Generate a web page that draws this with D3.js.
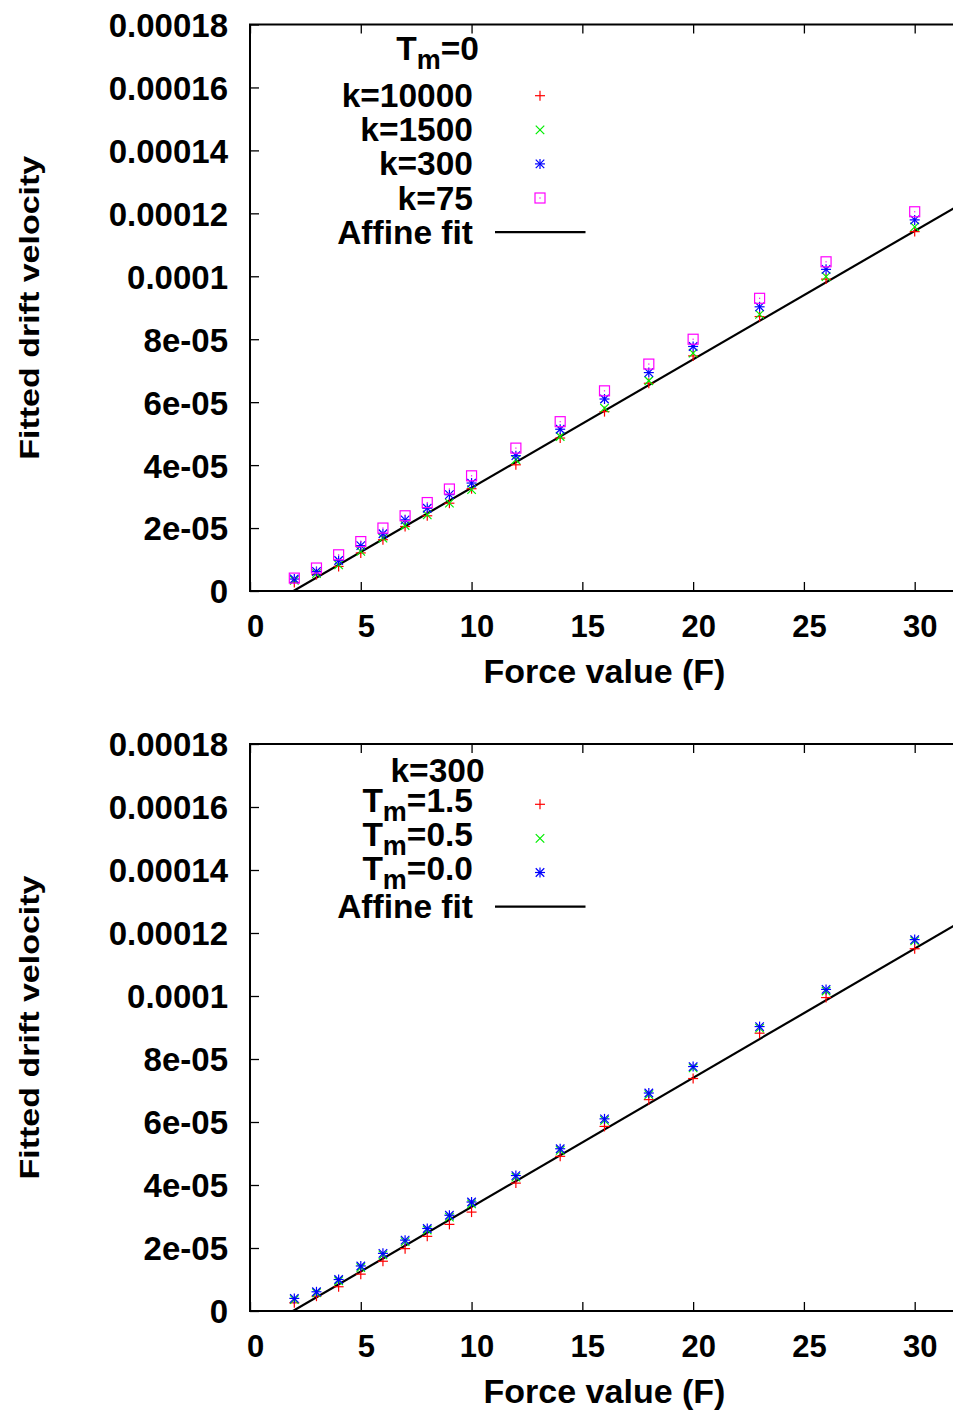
<!DOCTYPE html>
<html>
<head>
<meta charset="utf-8">
<script src="https://cdn.jsdelivr.net/npm/d3@7"></script>
<style>
  html, body { margin: 0; padding: 0; background: #fff; }
  svg { display: block; }
  text { font-family: "Liberation Sans", Arial, Helvetica, sans-serif; font-weight: bold; fill: #000; }
</style>
</head>
<body>
<svg id="chart" width="953" height="1414"></svg>
<script>
// ---------------- data ----------------
const forces = [2, 3, 4, 5, 6, 7, 8, 9, 10, 12, 14, 16, 18, 20, 23, 26, 30];

// Top panel (T_m = 0)
const topK10000 = [2.7e-6, 5.2e-6, 7.8e-6, 1.21e-5, 1.63e-5, 2.05e-5, 2.39e-5, 2.79e-5, 3.25e-5, 4.01e-5, 4.86e-5, 5.70e-5, 6.60e-5, 7.47e-5, 8.72e-5, 9.91e-5, 1.142e-4];
const topK1500  = [3.4e-6, 5.5e-6, 8.3e-6, 1.26e-5, 1.68e-5, 2.08e-5, 2.42e-5, 2.79e-5, 3.22e-5, 4.17e-5, 4.91e-5, 5.81e-5, 6.68e-5, 7.56e-5, 8.79e-5, 9.99e-5, 1.157e-4];
const topK300   = [3.8e-6, 6.2e-6, 9.7e-6, 1.44e-5, 1.82e-5, 2.26e-5, 2.63e-5, 3.06e-5, 3.43e-5, 4.30e-5, 5.14e-5, 6.10e-5, 6.94e-5, 7.77e-5, 9.03e-5, 1.022e-4, 1.179e-4];
const topK75    = [4.1e-6, 7.3e-6, 1.15e-5, 1.57e-5, 2.00e-5, 2.39e-5, 2.81e-5, 3.24e-5, 3.66e-5, 4.54e-5, 5.38e-5, 6.36e-5, 7.21e-5, 8.00e-5, 9.30e-5, 1.046e-4, 1.205e-4];
const topFit = [4.08e-6, -8.0e-6];   // slope, intercept

// Bottom panel (k = 300)
const botTm15 = [2.6e-6, 4.7e-6, 7.7e-6, 1.17e-5, 1.58e-5, 1.98e-5, 2.37e-5, 2.75e-5, 3.14e-5, 4.06e-5, 4.91e-5, 5.86e-5, 6.71e-5, 7.38e-5, 8.82e-5, 9.95e-5, 1.150e-4];
const botTm05 = [3.6e-6, 5.8e-6, 9.6e-6, 1.38e-5, 1.78e-5, 2.20e-5, 2.57e-5, 2.98e-5, 3.40e-5, 4.25e-5, 5.10e-5, 6.05e-5, 6.87e-5, 7.72e-5, 8.98e-5, 1.016e-4, 1.175e-4];
const botTm00 = [4.0e-6, 6.1e-6, 1.0e-5, 1.43e-5, 1.83e-5, 2.25e-5, 2.62e-5, 3.04e-5, 3.46e-5, 4.30e-5, 5.15e-5, 6.10e-5, 6.92e-5, 7.76e-5, 9.03e-5, 1.021e-4, 1.179e-4];
const botFit = [4.10e-6, -7.95e-6];

const xTicks = [0, 5, 10, 15, 20, 25, 30];
const yTicks = [0, 2e-5, 4e-5, 6e-5, 8e-5, 1e-4, 1.2e-4, 1.4e-4, 1.6e-4, 1.8e-4];
const yTickLabels = ["0", "2e-05", "4e-05", "6e-05", "8e-05", "0.0001", "0.00012", "0.00014", "0.00016", "0.00018"];
const xDomain = [0, 32];
const yDomain = [0, 1.8e-4];

const xLabel = "Force value (F)";
const yLabel = "Fitted drift velocity";

// ---------------- drawing ----------------
const svg = d3.select("#chart");
const COLORS = { red: "#ff0000", green: "#00ee00", blue: "#0000ff", magenta: "#ff00ff" };

function drawMarker(g, type, cx, cy, color) {
  const s = 5;
  const add = (x1, y1, x2, y2) => g.append("line")
    .attr("x1", cx + x1).attr("y1", cy + y1).attr("x2", cx + x2).attr("y2", cy + y2)
    .attr("stroke", color).attr("stroke-width", 1.2);
  if (type === "plus" || type === "star") { add(-s, 0, s, 0); add(0, -s, 0, s); }
  if (type === "cross" || type === "star") { add(-s * 0.85, -s * 0.85, s * 0.85, s * 0.85); add(-s * 0.85, s * 0.85, s * 0.85, -s * 0.85); }
  if (type === "square") {
    g.append("rect").attr("x", cx - s).attr("y", cy - s).attr("width", 2 * s).attr("height", 2 * s)
      .attr("fill", "none").attr("stroke", color).attr("stroke-width", 1.2);
    g.append("rect").attr("x", cx - 0.6).attr("y", cy - 0.6).attr("width", 1.2).attr("height", 1.2).attr("fill", color);
  }
}

function drawPanel(cfg) {
  const left = 250, right = 959;
  const x = d3.scaleLinear().domain(xDomain).range([left, right]);
  const y = d3.scaleLinear().domain(yDomain).range([cfg.bottom, cfg.top]);
  const g = svg.append("g");
  const clipId = "clip" + cfg.id;
  svg.append("clipPath").attr("id", clipId).append("rect")
    .attr("x", left).attr("y", cfg.top).attr("width", right - left).attr("height", cfg.bottom - cfg.top);

  // bottom axis
  const xAxis = d3.axisBottom(x).tickValues(xTicks).tickSize(-9).tickPadding(0).tickFormat(d3.format("d"));
  const gx = g.append("g").attr("transform", `translate(0,${cfg.bottom})`).call(xAxis);
  gx.select(".domain").remove();
  gx.selectAll(".tick line").attr("stroke", "#000").attr("stroke-width", 1.3);
  gx.selectAll(".tick text").attr("y", 45.5).attr("dy", 0).attr("dx", 5)
    .style("font-size", "31px").style("font-family", "Liberation Sans, Arial, sans-serif").style("font-weight", "bold");

  // top mirror ticks
  const xAxisTop = d3.axisTop(x).tickValues(xTicks).tickSize(-9).tickFormat("");
  const gxt = g.append("g").attr("transform", `translate(0,${cfg.top})`).call(xAxisTop);
  gxt.select(".domain").remove();
  gxt.selectAll(".tick line").attr("stroke", "#000").attr("stroke-width", 1.3);

  // left axis
  const yAxis = d3.axisLeft(y).tickValues(yTicks).tickSize(-9).tickPadding(0)
    .tickFormat((d, i) => yTickLabels[i]);
  const gy = g.append("g").attr("transform", `translate(${left},0)`).call(yAxis);
  gy.select(".domain").remove();
  gy.selectAll(".tick line").attr("stroke", "#000").attr("stroke-width", 1.3);
  gy.selectAll(".tick text").attr("x", -22).attr("dy", "0.36em")
    .style("font-size", "33px").style("font-family", "Liberation Sans, Arial, sans-serif").style("font-weight", "bold");

  // border (left, top, bottom)
  g.append("path")
    .attr("d", `M${right},${cfg.top}H${left}V${cfg.bottom}H${right}`)
    .attr("fill", "none").attr("stroke", "#000").attr("stroke-width", 2);

  // axis labels
  g.append("text").attr("x", (left + right) / 2).attr("y", cfg.bottom + 92)
    .attr("text-anchor", "middle").style("font-size", "34px").text(xLabel);
  g.append("text")
    .attr("transform", `translate(39,${(cfg.top + cfg.bottom) / 2}) rotate(-90) scale(1,0.8)`)
    .attr("text-anchor", "middle").style("font-size", "34px").text(yLabel);

  // fit line
  const fx0 = -cfg.fit[1] / cfg.fit[0];
  const fitPts = [fx0, xDomain[1]].map(f => [f, cfg.fit[0] * f + cfg.fit[1]]);
  g.append("path").attr("clip-path", `url(#${clipId})`)
    .attr("d", d3.line().x(d => x(d[0])).y(d => y(d[1]))(fitPts))
    .attr("fill", "none").attr("stroke", "#000").attr("stroke-width", 2.2);

  // points
  const pg = g.append("g").attr("clip-path", `url(#${clipId})`);
  cfg.series.forEach(s => {
    s.values.forEach((v, i) => drawMarker(pg, s.marker, x(forces[i]), y(v), s.color));
  });

  // legend
  const lg = g.append("g");
  const title = lg.append("text").attr("x", 437.5).attr("y", cfg.titleY).attr("text-anchor", "middle")
    .style("font-size", "33.5px");
  cfg.title.forEach(part => {
    const t = title.append("tspan").text(part.t);
    if (part.sub) t.style("font-size", "27px").attr("dy", 9);
    else if (part.after) t.attr("dy", -9);
  });
  const entries = cfg.series.map(s => ({ label: s.label, marker: s.marker, color: s.color }))
    .concat([{ label: [{ t: "Affine fit" }], marker: "line", color: "#000" }]);
  entries.forEach((e, i) => {
    const cy = cfg.legendY + i * 34.1;
    const hasSub = e.label.some(p => p.sub);
    const txt = lg.append("text").attr("x", 473).attr("y", cy + (hasSub ? 7.5 : 11.5))
      .attr("text-anchor", "end").style("font-size", "33.5px");
    e.label.forEach(part => {
      const t = txt.append("tspan").text(part.t);
      if (part.sub) t.style("font-size", "27px").attr("dy", 9);
      else if (part.after) t.attr("dy", -9);
    });
    if (e.marker === "line") {
      lg.append("line").attr("x1", 495).attr("x2", 585.5).attr("y1", cy).attr("y2", cy)
        .attr("stroke", "#000").attr("stroke-width", 2.2);
    } else {
      drawMarker(lg, e.marker, 540, cy, e.color);
    }
  });
}

drawPanel({
  id: "top", top: 24.5, bottom: 591,
  fit: topFit,
  title: [{ t: "T" }, { t: "m", sub: true }, { t: "=0", after: true }],
  titleY: 60,
  legendY: 95.7,
  series: [
    { values: topK10000, marker: "plus", color: COLORS.red, label: [{ t: "k=10000" }] },
    { values: topK1500, marker: "cross", color: COLORS.green, label: [{ t: "k=1500" }] },
    { values: topK300, marker: "star", color: COLORS.blue, label: [{ t: "k=300" }] },
    { values: topK75, marker: "square", color: COLORS.magenta, label: [{ t: "k=75" }] }
  ]
});

drawPanel({
  id: "bot", top: 744, bottom: 1311,
  fit: botFit,
  title: [{ t: "k=300" }],
  titleY: 781.7,
  legendY: 804.3,
  series: [
    { values: botTm15, marker: "plus", color: COLORS.red, label: [{ t: "T" }, { t: "m", sub: true }, { t: "=1.5", after: true }] },
    { values: botTm05, marker: "cross", color: COLORS.green, label: [{ t: "T" }, { t: "m", sub: true }, { t: "=0.5", after: true }] },
    { values: botTm00, marker: "star", color: COLORS.blue, label: [{ t: "T" }, { t: "m", sub: true }, { t: "=0.0", after: true }] }
  ]
});
</script>
</body>
</html>
